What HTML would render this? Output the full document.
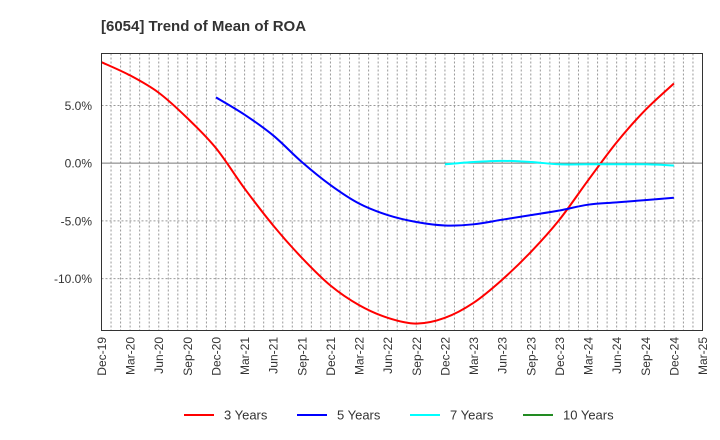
<!DOCTYPE html>
<html><head><meta charset="utf-8"><style>
body{margin:0;background:#fff;}
svg{display:block;font-family:"Liberation Sans",Arial,sans-serif;}
</style></head><body>
<svg id="chart" width="720" height="440" viewBox="0 0 720 440">
<text x="101" y="31" font-size="15" font-weight="bold" fill="#333">[6054]  Trend of Mean of ROA</text>
<g id="grid"></g>
<g id="series"></g>
<rect x="101.5" y="53.5" width="601" height="277" fill="none" stroke="#333" stroke-width="1"/>
<g id="axes"></g>
<g id="legend"></g>
</svg>
<script>
const xLabels=["Dec-19","Mar-20","Jun-20","Sep-20","Dec-20","Mar-21","Jun-21","Sep-21","Dec-21","Mar-22","Jun-22","Sep-22","Dec-22","Mar-23","Jun-23","Sep-23","Dec-23","Mar-24","Jun-24","Sep-24","Dec-24","Mar-25"];
const yTicks=[5,0,-5,-10];
const yTickLabels=["5.0%","0.0%","-5.0%","-10.0%"];
const series3=[8.75,7.6,6.1,3.9,1.3,-2.2,-5.4,-8.2,-10.6,-12.3,-13.4,-13.9,-13.4,-12.1,-10.1,-7.7,-4.9,-1.5,1.8,4.6,6.9];
const series3Start=0;
const series5=[5.7,4.2,2.4,0.1,-1.9,-3.5,-4.5,-5.1,-5.4,-5.3,-4.9,-4.5,-4.1,-3.6,-3.4,-3.2,-3.0];
const series5Start=4;
const series7=[-0.1,0.1,0.2,0.1,-0.1,-0.1,-0.1,-0.1,-0.2];
const series7Start=12;
const series10=[];
const legendNames=["3 Years","5 Years","7 Years","10 Years"];
const colors=["#ff0000","#0000ff","#00ffff","#228b22"];

const NS="http://www.w3.org/2000/svg";
const L=101.5,R=702.5,T=53.5,B=330.5;
const yMax=9.5,yMin=-14.5;
function xq(i){return L+(R-L)*i/(xLabels.length-1);}
function ys(v){return T+(yMax-v)/(yMax-yMin)*(B-T);}
function mk(tag,attrs,parent){const e=document.createElementNS(NS,tag);for(const k in attrs)e.setAttribute(k,attrs[k]);parent.appendChild(e);return e;}
const grid=document.getElementById('grid'),axes=document.getElementById('axes'),sg=document.getElementById('series'),lg=document.getElementById('legend');
// monthly vertical grid
for(let m=1;m<(xLabels.length-1)*3;m++){
  const x=L+(R-L)*m/((xLabels.length-1)*3);
  const ln=mk('line',{x1:x,x2:x,y1:T,y2:B,stroke:'#999','stroke-dasharray':'2,2','stroke-width':1},grid);
  
  
}
yTicks.forEach((v,i)=>{
  const y=ys(v);
  const ln=mk('line',{x1:L,x2:R,y1:y,y2:y,stroke:v===0?'#777':'#999','stroke-dasharray':v===0?'none':'2,2','stroke-width':1},grid);
  
  
  const t=mk('text',{x:92,y:y+4.5,'text-anchor':'end','font-size':12,fill:'#333'},axes);
  t.textContent=yTickLabels[i];
  
  
});
xLabels.forEach((lab,i)=>{
  const x=xq(i);
  const t=mk('text',{transform:`translate(${x+4.5},337) rotate(-90)`,'text-anchor':'end','font-size':12,fill:'#333'},axes);
  t.textContent=lab;
  
  
});
function path(vals,start){
  const p=vals.map((v,i)=>[xq(start+i),ys(v)]);
  if(p.length<2)return '';
  let d=`M${p[0][0]},${p[0][1]}`;
  for(let i=0;i<p.length-1;i++){
    const p0=p[i-1]||p[i],p1=p[i],p2=p[i+1],p3=p[i+2]||p2;
    const c1=[p1[0]+(p2[0]-p0[0])/6,p1[1]+(p2[1]-p0[1])/6];
    const c2=[p2[0]-(p3[0]-p1[0])/6,p2[1]-(p3[1]-p1[1])/6];
    d+=` C${c1[0]},${c1[1]} ${c2[0]},${c2[1]} ${p2[0]},${p2[1]}`;
  }
  return d;
}
[[series3,series3Start,'line-3-years'],[series5,series5Start,'line-5-years'],[series7,series7Start,'line-7-years'],[series10,0,'line-10-years']].forEach((s,k)=>{
  const d=path(s[0],s[1]);
  if(!d)return;
  const e=mk('path',{d:d,fill:'none',stroke:colors[k],'stroke-width':2},sg);
  
  
});
legendNames.forEach((n,k)=>{
  const x0=184+k*113;
  const g=mk('g',{},lg);
  
  
  mk('line',{x1:x0,x2:x0+30,y1:415,y2:415,stroke:colors[k],'stroke-width':2},g);
  const t=mk('text',{x:x0+40,y:419.5,'font-size':13,fill:'#333'},g);
  t.textContent=n;
});
</script>
</body></html>
